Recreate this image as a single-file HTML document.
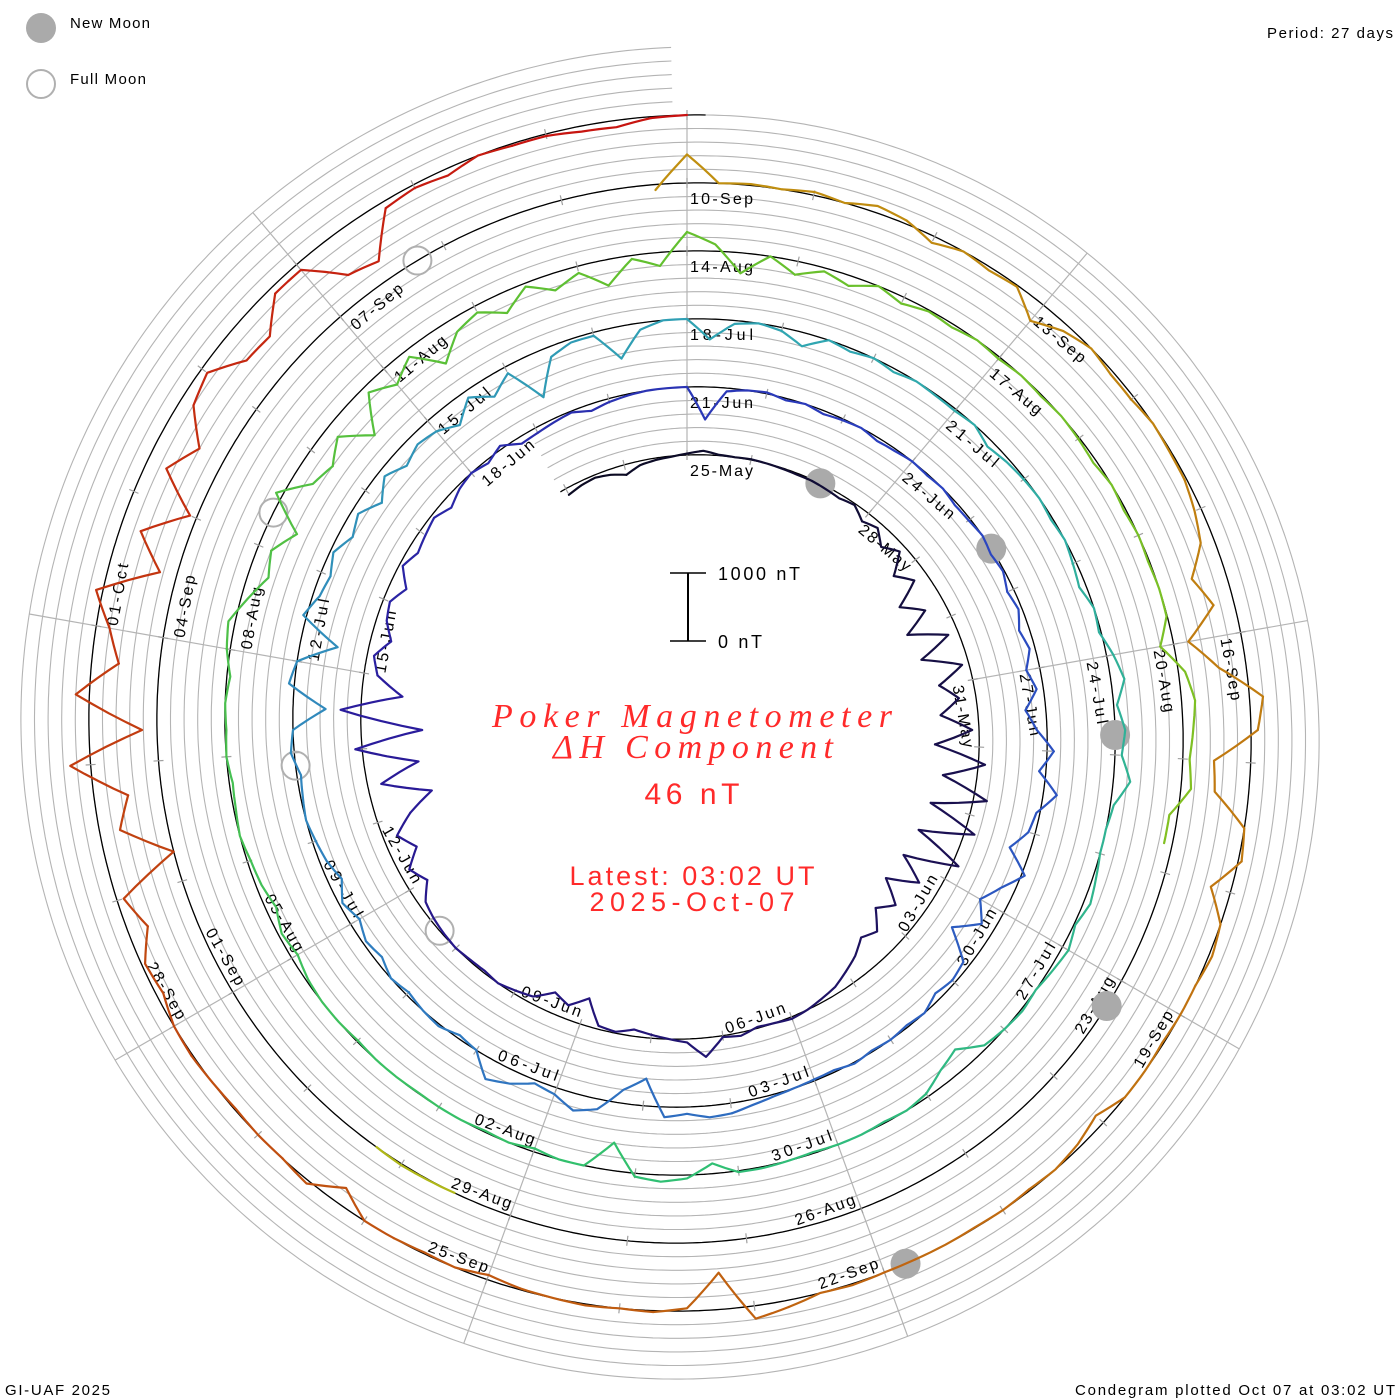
<!DOCTYPE html>
<html>
<head>
<meta charset="utf-8">
<style>
html,body{margin:0;padding:0;background:#fff;}
svg{display:block;}
text{font-family:"Liberation Sans",sans-serif;}
</style>
</head>
<body>
<svg id="chart" xmlns="http://www.w3.org/2000/svg" width="1400" height="1400" viewBox="0 0 1400 1400">
  <rect x="0" y="0" width="1400" height="1400" fill="#ffffff"/>
  <g id="grid"></g>
  <g id="spokes"></g>
  <g id="baseline"></g>
  <g id="labels"></g>
  <g id="moons"></g>
  <g id="traces"></g>

  <g>
    <circle cx="41" cy="28" r="15" fill="#aaaaaa"/>
    <text x="70" y="28" font-size="15" textLength="80" lengthAdjust="spacing" fill="#000">New Moon</text>
    <circle cx="41" cy="84" r="14" fill="none" stroke="#b0b0b0" stroke-width="2"/>
    <text x="70" y="84" font-size="15" textLength="76" lengthAdjust="spacing" fill="#000">Full Moon</text>
  </g>
  <text x="1393" y="38" font-size="15" text-anchor="end" textLength="126" lengthAdjust="spacing">Period: 27 days</text>
  <text x="5" y="1395" font-size="15" textLength="105" lengthAdjust="spacing">GI-UAF 2025</text>
  <text x="1395" y="1395" font-size="15" text-anchor="end" textLength="320" lengthAdjust="spacing">Condegram plotted Oct 07 at 03:02 UT</text>

  <g>
    <line x1="688" y1="573" x2="688" y2="641" stroke="#000" stroke-width="2"/>
    <line x1="670" y1="573" x2="706" y2="573" stroke="#000" stroke-width="1.5"/>
    <line x1="670" y1="641" x2="706" y2="641" stroke="#000" stroke-width="1.5"/>
    <text x="718" y="580" font-size="18" textLength="82" lengthAdjust="spacing">1000 nT</text>
    <text x="718" y="648" font-size="18" textLength="44" lengthAdjust="spacing">0 nT</text>
  </g>

  <g fill="#ff2a2a">
    <text x="692" y="727" font-size="34" font-style="italic" text-anchor="middle" textLength="400" lengthAdjust="spacing" style="font-family:'Liberation Serif',serif">Poker Magnetometer</text>
    <text x="693" y="758" font-size="34" font-style="italic" text-anchor="middle" textLength="280" lengthAdjust="spacing" style="font-family:'Liberation Serif',serif">ΔH Component</text>
    <text x="692" y="804" font-size="30" text-anchor="middle" textLength="95" lengthAdjust="spacing">46 nT</text>
    <text x="692" y="885" font-size="27" text-anchor="middle" textLength="245" lengthAdjust="spacing">Latest: 03:02 UT</text>
    <text x="692" y="911" font-size="27" text-anchor="middle" textLength="205" lengthAdjust="spacing">2025-Oct-07</text>
  </g>
</svg>
<script>
// ---- data (deviation of H in nT, 4 samples/day starting 23-May 00UT; day 0 = 25-May) ----
const startDay = -2;
const samplesPerDay = 4;
const dH = [
/*May23*/ -100,-60,-40,-80,
/*May24*/ -150,-60,-30,-10,
/*May25*/ 20,60,10,0,
/*May26*/ 10,0,-10,-20,
/*May27*/ -20,-40,-60,-20,
/*May28*/ -150,-80,-250,-100,
/*May29*/ -400,-200,-600,-300,
/*May30*/ -700,-150,-650,-100,
/*May31*/ -500,-250,-550,-100,
/*Jun01*/ -650,100,-500,200,
/*Jun02*/ -600,150,-650,100,
/*Jun03*/ -700,-300,-750,-400,
/*Jun04*/ -600,-350,-450,-300,
/*Jun05*/ -200,-100,-50,0,
/*Jun06*/ 30,0,-20,50,
/*Jun07*/ 20,280,50,0,
/*Jun08*/ -50,-100,-20,-50,
/*Jun09*/ -400,-200,-300,-100,
/*Jun10*/ -50,0,-30,-20,
/*Jun11*/ 0,-20,-50,-100,
/*Jun12*/ -300,-150,-400,-200,
/*Jun13*/ -500,-900,-200,-800,
/*Jun14*/ 100,-900,300,-600,
/*Jun15*/ -200,-100,-300,-150,
/*Jun16*/ -100,-250,-50,-150,
/*Jun17*/ -100,-50,-150,-50,
/*Jun18*/ 0,-50,50,-100,
/*Jun19*/ -80,-50,-20,-100,
/*Jun20*/ -50,-20,0,0,
/*Jun21*/ 0,-480,-50,0,
/*Jun22*/ 20,-30,0,-50,
/*Jun23*/ -20,0,-50,-30,
/*Jun24*/ 0,-20,0,-40,
/*Jun25*/ -30,0,-50,-20,
/*Jun26*/ -100,-50,-150,-80,
/*Jun27*/ -200,-100,-300,-150,
/*Jun28*/ 100,-100,200,-50,
/*Jun29*/ -100,-300,50,-200,
/*Jun30*/ -400,-200,-540,-100,
/*Jul01*/ -50,-100,0,-30,
/*Jul02*/ 0,-20,20,-30,
/*Jul03*/ -20,0,30,80,
/*Jul04*/ 150,170,100,150,
/*Jul05*/ -400,-200,150,250,
/*Jul06*/ 100,50,200,300,
/*Jul07*/ 0,-50,30,0,
/*Jul08*/ -50,0,-100,-50,
/*Jul09*/ -150,-50,-200,-100,
/*Jul10*/ -50,0,-30,-60,
/*Jul11*/ 50,0,-480,80,
/*Jul12*/ 0,-550,50,-100,
/*Jul13*/ -150,-50,-200,-100,
/*Jul14*/ -300,-100,-250,-150,
/*Jul15*/ -200,-350,-100,-300,
/*Jul16*/ -100,-650,-150,-50,
/*Jul17*/ -50,-470,-100,0,
/*Jul18*/ 0,-300,-50,0,
/*Jul19*/ -50,-200,0,-50,
/*Jul20*/ 0,-50,0,-20,
/*Jul21*/ -30,0,-100,-50,
/*Jul22*/ -20,0,-30,0,
/*Jul23*/ -50,-100,0,-30,
/*Jul24*/ 100,200,50,150,
/*Jul25*/ 100,250,50,0,
/*Jul26*/ 0,50,100,20,
/*Jul27*/ 100,50,0,30,
/*Jul28*/ 0,-50,-300,-200,
/*Jul29*/ -50,0,-20,0,
/*Jul30*/ 0,-20,0,20,
/*Jul31*/ 20,-150,50,100,
/*Aug01*/ 50,-410,0,0,
/*Aug02*/ -50,0,-20,0,
/*Aug03*/ 0,-10,0,0,
/*Aug04*/ -20,0,0,-30,
/*Aug05*/ -100,-50,-150,-80,
/*Aug06*/ -50,0,-30,-50,
/*Aug07*/ 0,-20,0,-50,
/*Aug08*/ 50,100,-100,-300,
/*Aug09*/ -200,-450,100,-300,
/*Aug10*/ -400,-200,-600,-100,
/*Aug11*/ -300,-100,-500,-200,
/*Aug12*/ -100,-300,-50,-250,
/*Aug13*/ -100,-380,-50,-200,
/*Aug14*/ 280,100,-300,0,
/*Aug15*/ -200,-50,-150,0,
/*Aug16*/ -100,-20,-50,0,
/*Aug17*/ -30,0,-20,0,
/*Aug18*/ -20,-50,0,-30,
/*Aug19*/ 0,-20,0,-10,
/*Aug20*/ -200,100,200,150,
/*Aug21*/ 100,150,-120,-120,
/*Aug22*/ null,null,null,null,
/*Aug23*/ null,null,null,null,
/*Aug24*/ null,null,null,null,
/*Aug25*/ null,null,null,null,
/*Aug26*/ null,null,null,null,
/*Aug27*/ null,null,null,null,
/*Aug28*/ null,null,null,null,
/*Aug29*/ null,null,0,10,
/*Aug30*/ 20,0,null,null,
/*Aug31*/ null,null,null,null,
/*Sep01*/ null,null,null,null,
/*Sep02*/ null,null,null,null,
/*Sep03*/ null,null,null,null,
/*Sep04*/ null,null,null,null,
/*Sep05*/ null,null,null,null,
/*Sep06*/ null,null,null,null,
/*Sep07*/ null,null,null,null,
/*Sep08*/ null,null,null,null,
/*Sep09*/ null,null,null,-80,
/*Sep10*/ 420,0,20,0,
/*Sep11*/ 50,0,100,50,
/*Sep12*/ -100,0,-50,-20,
/*Sep13*/ -300,-100,0,-50,
/*Sep14*/ -50,0,-20,-30,
/*Sep15*/ -100,-200,-500,-300,
/*Sep16*/ -780,-400,200,100,
/*Sep17*/ -540,-500,0,50,
/*Sep18*/ -300,0,50,0,
/*Sep19*/ 0,-20,0,0,
/*Sep20*/ -150,-50,0,-20,
/*Sep21*/ 0,-10,0,0,
/*Sep22*/ 0,20,0,100,
/*Sep23*/ 190,-540,-40,20,
/*Sep24*/ 0,20,0,-20,
/*Sep25*/ -70,0,-20,0,
/*Sep26*/ 0,-250,50,0,
/*Sep27*/ 0,-20,0,20,
/*Sep28*/ 0,-100,-50,-300,
/*Sep29*/ -100,-1000,-300,-500,
/*Sep30*/ 300,-780,200,-400,
/*Oct01*/ -200,100,-750,-300,
/*Oct02*/ -900,-300,-600,-200,
/*Oct03*/ -100,-450,-480,-100,
/*Oct04*/ -100,-600,-700,-100,
/*Oct05*/ -50,-100,0,-30,
/*Oct06*/ -30,-80,-100,-20,
/*Oct07*/ 0
];
const labelDays = [0,3,6,9,12,15,18,21,24,27,30,33,36,39,42,45,48,51,54,57,60,63,66,69,72,75,78,81,84,87,90,93,96,99,102,105,108,111,114,117,120,123,126,129];
const labelTexts = ["25-May","28-May","31-May","03-Jun","06-Jun","09-Jun","12-Jun","15-Jun","18-Jun","21-Jun","24-Jun","27-Jun","30-Jun","03-Jul","06-Jul","09-Jul","12-Jul","15-Jul","18-Jul","21-Jul","24-Jul","27-Jul","30-Jul","02-Aug","05-Aug","08-Aug","11-Aug","14-Aug","17-Aug","20-Aug","23-Aug","26-Aug","29-Aug","01-Sep","04-Sep","07-Sep","10-Sep","13-Sep","16-Sep","19-Sep","22-Sep","25-Sep","28-Sep","01-Oct"];
const newMoonDays = [2.13, 31.44, 60.80, 90.25, 119.83];
const fullMoonDays = [17.32, 46.86, 76.33, 105.76];

// ---- geometry ----
const NS = "http://www.w3.org/2000/svg";
const cx = 687, cy = 730, R0 = 275, PITCH = 68, PER = 27, PX_PER_NT = 0.068;
const tFirst = -2.1, tLast = 135.13, tGridEnd = 134.9;
function ang(t){ return t / PER * 2 * Math.PI; }
function base(t){ return R0 + PITCH * t / PER; }
function pt(t, r){ const a = ang(t); return [cx + r * Math.sin(a), cy - r * Math.cos(a)]; }
function mk(tag, attrs, parent){
  const el = document.createElementNS(NS, tag);
  for (const k in attrs) el.setAttribute(k, attrs[k]);
  parent.appendChild(el);
  return el;
}
function spiralPoints(t0, t1, off){
  const pts = [];
  const n = Math.ceil((t1 - t0) / 0.04);
  for (let i = 0; i <= n; i++){
    const t = t0 + (t1 - t0) * i / n;
    const p = pt(t, base(t) + off);
    pts.push(p[0].toFixed(1) + "," + p[1].toFixed(1));
  }
  return pts.join(" ");
}

// grid lines
const gGrid = document.getElementById("grid");
for (let k = 1; k <= 5; k++){
  const pl = mk("polyline", {points: spiralPoints(tFirst, tGridEnd, k * PITCH / 5), fill: "none", stroke: "#b4b4b4", "stroke-width": 1.1}, gGrid);
  
  
}

// spokes every 3 days
const gSpokes = document.getElementById("spokes");
for (let s = 0; s < 9; s++){
  const t = s * 3;
  const p1 = pt(t, base(t));
  const p2 = pt(t, base(t + 108) + PITCH);
  const ln = mk("line", {x1: p1[0], y1: p1[1], x2: p2[0], y2: p2[1], stroke: "#b4b4b4", "stroke-width": 1.2}, gSpokes);
  
  
}

// baseline + day ticks
const gBase = document.getElementById("baseline");
const bl = mk("polyline", {points: spiralPoints(tFirst, tLast, 0), fill: "none", stroke: "#000", "stroke-width": 1.3}, gBase);


for (let d = -2; d <= 135; d++){
  const a = pt(d, base(d) - 5), b = pt(d, base(d) + 5);
  const tk = mk("line", {x1: a[0], y1: a[1], x2: b[0], y2: b[1], stroke: "#a0a0a0", "stroke-width": 1.2}, gBase);
  
  
}

// date labels
const gLab = document.getElementById("labels");
for (let i = 0; i < labelDays.length; i++){
  const t = labelDays[i];
  const deg = ((t % PER) / PER) * 360;
  const r = base(t);
  let el;
  if (deg <= 90 || deg >= 270){
    el = mk("text", {x: cx + 3, y: cy - r + 21, "font-size": 16, textLength: 63, lengthAdjust: "spacing",
      transform: "rotate(" + deg + " " + cx + " " + cy + ")"}, gLab);
  } else {
    el = mk("text", {x: cx - 3, y: cy + r - 6, "font-size": 16, "text-anchor": "end", textLength: 63, lengthAdjust: "spacing",
      transform: "rotate(" + (deg + 180) + " " + cx + " " + cy + ")"}, gLab);
  }
  el.textContent = labelTexts[i];
  
  
}

// moons
const gMoon = document.getElementById("moons");
newMoonDays.forEach(t => {
  const p = pt(t, base(t));
  const c = mk("circle", {cx: p[0], cy: p[1], r: 15, fill: "#aaaaaa"}, gMoon);
  
  
});
fullMoonDays.forEach(t => {
  const p = pt(t, base(t));
  const c = mk("circle", {cx: p[0], cy: p[1], r: 14, fill: "none", stroke: "#b0b0b0", "stroke-width": 2}, gMoon);
  
  
});

// colour ramp over time
const colorStops = [[-2,[10,10,32]],[8,[26,16,80]],[20,[42,26,154]],[30,[42,64,192]],[45,[48,128,192]],[56,[48,168,176]],[68,[48,192,112]],[80,[96,192,48]],[90,[136,192,32]],[97,[176,184,24]],[108,[192,144,16]],[118,[192,112,16]],[126,[192,74,16]],[135,[200,16,16]]];
function colorAt(t){
  for (let i = 0; i < colorStops.length - 1; i++){
    const a = colorStops[i], b = colorStops[i+1];
    if (t <= b[0]){
      const f = Math.max(0, (t - a[0]) / (b[0] - a[0]));
      const c = a[1].map((v, j) => Math.round(v + (b[1][j] - v) * f));
      return "rgb(" + c.join(",") + ")";
    }
  }
  const l = colorStops[colorStops.length - 1][1];
  return "rgb(" + l.join(",") + ")";
}

// trace: one polyline per day chunk
const gTr = document.getElementById("traces");
const nS = dH.length;
function tOf(i){ return startDay + i / samplesPerDay; }
let i = 0;
while (i < nS - 1){
  const pts = [];
  let j = i;
  const chunkEnd = Math.min(nS - 1, i + samplesPerDay);
  for (; j < chunkEnd; j++){
    if (dH[j] === null || dH[j+1] === null){ break; }
    const ta = tOf(j), tb = tOf(j+1);
    for (let s = (pts.length ? 1 : 0); s <= 4; s++){
      const f = s / 4;
      const t = ta + (tb - ta) * f;
      const v = dH[j] + (dH[j+1] - dH[j]) * f;
      const p = pt(t, base(t) + v * PX_PER_NT);
      pts.push(p[0].toFixed(1) + "," + p[1].toFixed(1));
    }
  }
  if (pts.length > 1){
    const pl = mk("polyline", {points: pts.join(" "), fill: "none", stroke: colorAt(tOf(i) + 0.5),
      "stroke-width": 2.2, "stroke-linejoin": "round", "stroke-linecap": "round"}, gTr);
    
    
  }
  i = (j > i) ? j : i + 1;
}
</script>
</body>
</html>
